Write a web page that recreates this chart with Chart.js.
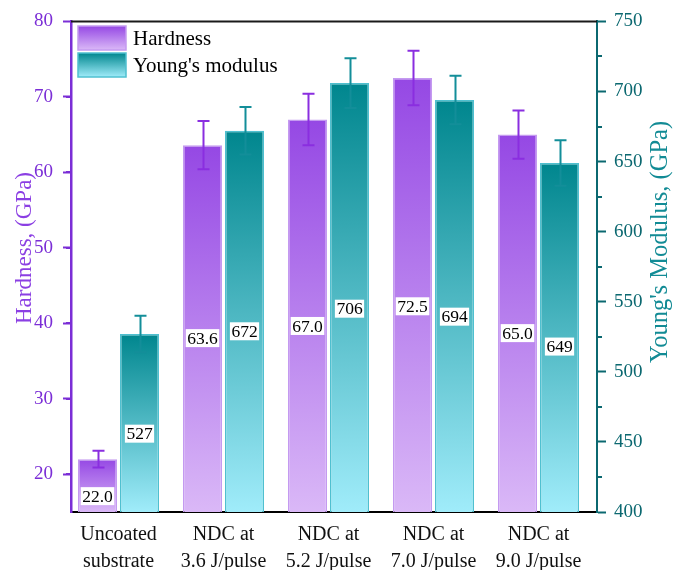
<!DOCTYPE html>
<html><head><meta charset="utf-8">
<script src="https://cdn.jsdelivr.net/npm/chart.js@4.4.1/dist/chart.umd.min.js"></script>
<style>html,body{margin:0;padding:0;background:#fff;}</style>
</head><body>
<canvas id="c" width="681" height="570"></canvas>
<script>
// ---- data ----
const categories = [["Uncoated","substrate"],["NDC at","3.6 J/pulse"],["NDC at","5.2 J/pulse"],["NDC at","7.0 J/pulse"],["NDC at","9.0 J/pulse"]];
const hardness = [22.0, 63.6, 67.0, 72.5, 65.0];
const hardnessErr = [1.1, 3.2, 3.4, 3.6, 3.2];
const youngs = [527, 672, 706, 694, 649];
const youngsErr = [13, 17, 17.7, 17.3, 16.3];
const hardnessLabels = ["22.0","63.6","67.0","72.5","65.0"];
const youngsLabels = ["527","672","706","694","649"];
const hardnessRange = [15, 80];
const youngsRange = [400, 750];

const SERIF = "'Liberation Serif','DejaVu Serif',serif";
const PURPLE_TOP = '#9548e4', PURPLE_BOT = '#dab8f7';
const TEAL_TOP = '#00868e', TEAL_BOT = '#a0ecfa';

function barGradient(top, bottom) {
  return function(ctx) {
    const chart = ctx.chart;
    if (ctx.type !== 'data' || !chart.chartArea) return top;
    const ys = chart.scales[ctx.dataset.yAxisID];
    const yTop = ys.getPixelForValue(ctx.raw.y);
    const g = chart.ctx.createLinearGradient(0, yTop, 0, ys.bottom);
    g.addColorStop(0, top); g.addColorStop(1, bottom);
    return g;
  };
}

const extras = {
  id: 'extras',
  beforeDatasetsDraw(chart) {
    const ctx = chart.ctx, a = chart.chartArea;
    ctx.save();
    const yl = chart.scales.yH, yr = chart.scales.yY;
    ctx.lineWidth = 2;
    ctx.strokeStyle = '#7b2ed6';
    for (let v = hardnessRange[0] + 10; v < hardnessRange[1]; v += 10) {
      const y = Math.round(yl.getPixelForValue(v - 5));
      ctx.beginPath(); ctx.moveTo(a.left - 5, y); ctx.lineTo(a.left, y); ctx.stroke();
    }
    ctx.strokeStyle = '#0b6870';
    for (let v = youngsRange[0] + 25; v < youngsRange[1]; v += 50) {
      const y = Math.round(yr.getPixelForValue(v));
      ctx.beginPath(); ctx.moveTo(a.right, y); ctx.lineTo(a.right + 5, y); ctx.stroke();
    }
    ctx.restore();
  },
  afterDatasetsDraw(chart) {
    const ctx = chart.ctx;
    chart.data.datasets.forEach((ds, di) => {
      const meta = chart.getDatasetMeta(di);
      const ys = chart.scales[ds.yAxisID];
      meta.data.forEach((bar, i) => {
        const v = ds.data[i].y, e = ds.errors[i];
        const x = Math.round(bar.x) + 0.5;
        const y1 = ys.getPixelForValue(v + e), y2 = ys.getPixelForValue(v - e);
        ctx.save();
        ctx.strokeStyle = ds.errColor; ctx.lineWidth = 2;
        ctx.beginPath();
        ctx.moveTo(x, y1); ctx.lineTo(x, y2);
        ctx.moveTo(x - 6, y1); ctx.lineTo(x + 6, y1);
        ctx.moveTo(x - 6, y2); ctx.lineTo(x + 6, y2);
        ctx.stroke();
        ctx.restore();
      });
    });
    chart.data.datasets.forEach((ds, di) => {
      const meta = chart.getDatasetMeta(di);
      const ys = chart.scales[ds.yAxisID];
      meta.data.forEach((bar, i) => {
        const base = ys.bottom;
        const h = base - bar.y;
        const f = h < 100 ? 0.3 : (h < 200 ? 0.44 : 0.474);
        const cy = base - f * h;
        ctx.save();
        ctx.font = '17.5px ' + SERIF;
        const t = ds.valueLabels[i];
        const w = ctx.measureText(t).width + 3;
        ctx.fillStyle = '#fff';
        ctx.fillRect(bar.x - w / 2, cy - 9, w, 18);
        ctx.fillStyle = '#000';
        ctx.textAlign = 'center'; ctx.textBaseline = 'middle';
        ctx.fillText(t, bar.x, cy + 1);
        ctx.restore();
      });
    });
  },
  afterDraw(chart) {
    const ctx = chart.ctx, a = chart.chartArea;
    ctx.save();
    ctx.strokeStyle = '#1a1a1a'; ctx.lineWidth = 2;
    ctx.beginPath(); ctx.moveTo(a.left, a.top); ctx.lineTo(a.right, a.top); ctx.stroke();
    ctx.textAlign = 'center'; ctx.textBaseline = 'middle';
    ctx.save();
    ctx.font = '23px ' + SERIF;
    ctx.translate(25, 248); ctx.rotate(-Math.PI / 2);
    ctx.fillStyle = '#8b3fe3';
    ctx.fillText('Hardness, (GPa)', 0, 0);
    ctx.restore();
    ctx.save();
    ctx.font = '24.5px ' + SERIF;
    ctx.translate(661, 242); ctx.rotate(-Math.PI / 2);
    ctx.fillStyle = '#128b95';
    ctx.fillText("Young's Modulus, (GPa)", 0, 0);
    ctx.restore();
    const items = [['Hardness', PURPLE_TOP, PURPLE_BOT, '#c49af0'], ["Young's modulus", TEAL_TOP, TEAL_BOT, '#4fc0d0']];
    items.forEach((it, k) => {
      const bx = 78, by = 26 + k * 27, bw = 48, bh = 24;
      const g = ctx.createLinearGradient(0, by, 0, by + bh);
      g.addColorStop(0, it[1]); g.addColorStop(1, it[2]);
      ctx.fillStyle = g; ctx.fillRect(bx, by, bw, bh);
      ctx.strokeStyle = it[3]; ctx.lineWidth = 1.5; ctx.strokeRect(bx, by, bw, bh);
      ctx.fillStyle = '#000'; ctx.font = '21px ' + SERIF;
      ctx.textAlign = 'left'; ctx.textBaseline = 'middle';
      ctx.fillText(it[0], 133, by + bh / 2 + 1);
    });
    ctx.restore();
  }
};

new Chart(document.getElementById('c'), {
  type: 'bar',
  data: {
    datasets: [
      {
        label: 'Hardness', yAxisID: 'yH',
        data: hardness.map((v, i) => ({ x: i, y: v })),
        errors: hardnessErr, valueLabels: hardnessLabels, errColor: '#8a2ee0',
        backgroundColor: barGradient(PURPLE_TOP, PURPLE_BOT),
        borderColor: '#c49af0', borderWidth: 1.5,
        barPercentage: 0.93, categoryPercentage: 0.8
      },
      {
        label: "Young's modulus", yAxisID: 'yY',
        data: youngs.map((v, i) => ({ x: i, y: v })),
        errors: youngsErr, valueLabels: youngsLabels, errColor: '#138e99',
        backgroundColor: barGradient(TEAL_TOP, TEAL_BOT),
        borderColor: '#4fc0d0', borderWidth: 1.5,
        barPercentage: 0.93, categoryPercentage: 0.8
      }
    ]
  },
  options: {
    responsive: false, animation: false, devicePixelRatio: 1,
    layout: { padding: { top: 20, left: 0, right: 0, bottom: 0 } },
    plugins: { legend: { display: false }, tooltip: { enabled: false } },
    scales: {
      x: {
        type: 'linear', position: 'bottom', min: -0.4524, max: 4.557, offset: false,
        afterBuildTicks: s => { s.ticks = categories.map((c, i) => ({ value: i })); },
        afterFit: s => { s.height = 58; },
        grid: { display: false, offset: false },
        border: { display: true, color: '#000', width: 2 },
        ticks: {
          callback: v => categories[v], padding: 1, maxRotation: 0, autoSkip: false,
          color: '#111', font: { family: SERIF, size: 20, lineHeight: 1.36 }
        }
      },
      yH: {
        type: 'linear', position: 'left', min: hardnessRange[0], max: hardnessRange[1],
        afterFit: s => { s.width = 71; },
        grid: { drawOnChartArea: false, drawTicks: true, tickLength: 8, tickWidth: 2,
          tickColor: c => (c.tick && c.tick.value % 10 === 0) ? '#7b2ed6' : 'rgba(0,0,0,0)' },
        border: { display: true, color: '#7b2ed6', width: 2.5 },
        ticks: { stepSize: 10, padding: 10, color: '#7b2ed6', font: { family: SERIF, size: 19 },
          callback: v => (v % 10 === 0 ? v : '') }
      },
      yY: {
        type: 'linear', position: 'right', min: youngsRange[0], max: youngsRange[1],
        afterFit: s => { s.width = 84; },
        grid: { drawOnChartArea: false, drawTicks: true, tickLength: 9, tickWidth: 2, tickColor: '#0b6870' },
        border: { display: true, color: '#0b6870', width: 2 },
        ticks: { stepSize: 50, padding: 8, color: '#0b6870', font: { family: SERIF, size: 19 } }
      }
    }
  },
  plugins: [extras]
});
</script>
</body></html>
